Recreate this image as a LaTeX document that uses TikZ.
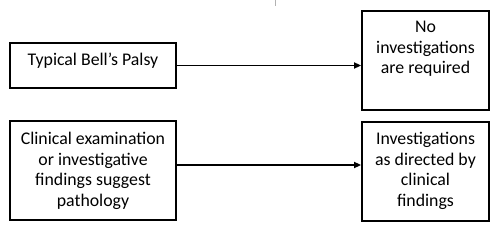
\documentclass[tikz,border=0pt]{standalone}
\usepackage{fontspec}
\setmainfont{Carlito}
\usetikzlibrary{arrows.meta}
\tikzset{
  boxs/.style={draw, line width=1.8pt, inner sep=0pt},
  txt/.style={align=center, font=\fontsize{17.8}{20.5}\selectfont, inner sep=0pt, anchor=north},
  arr/.style={line width=1.6pt, -{Triangle[length=7pt,width=6pt]}}
}
\begin{document}
\begin{tikzpicture}[x=1pt,y=-1pt]
\useasboundingbox (0,0) rectangle (500,238);
% boxes
\node[boxs, minimum width=166pt, minimum height=45pt] (b1) at (93,65.5) {};
\node[boxs, minimum width=127pt, minimum height=99pt] (b2) at (425.5,60.5) {};
\node[boxs, minimum width=166pt, minimum height=99pt] (b3) at (93,170.5) {};
\node[boxs, minimum width=127pt, minimum height=99pt] (b4) at (425.5,171.5) {};
% texts
\node[txt] (t1) at ([yshift=-9.2pt]b1.north) {\strut Typical Bell’s Palsy};
\node[txt] (t2) at ([yshift=-8.2pt]b2.north) {\strut No\\investigations\\are required};
\node[txt] (t3) at ([yshift=-10.2pt]b3.north) {\strut Clinical examination\\or investigative\\findings suggest\\pathology};
\node[txt] (t4) at ([yshift=-9.2pt]b4.north) {\strut Investigations\\as directed by\\clinical\\findings};
% connectors
\draw[arr] (b1.east) -- (b2.west |- b1.east);
\coordinate (s2) at ([yshift=5.5pt]b3.east);
\draw[arr] (s2) -- (b4.west |- s2);
% small tick at top
\coordinate (tk1) at (275.5,0);
\coordinate (tk2) at (275.5,6);
\draw[gray!60, line width=0.8pt] (tk1) -- (tk2);
\end{tikzpicture}
\end{document}
